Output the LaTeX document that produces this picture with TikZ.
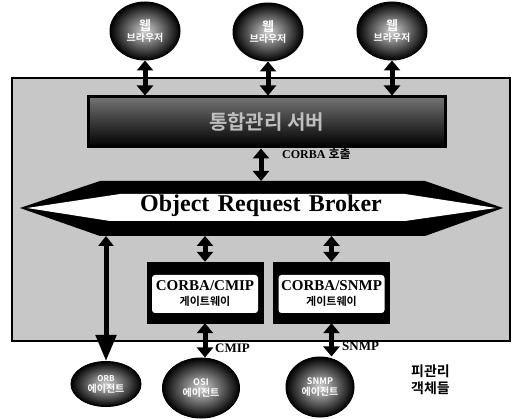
\documentclass[tikz,border=0pt]{standalone}
\usepackage{fontspec}
\setmainfont{Liberation Serif}
\newfontfamily\kr{Noto Sans CJK KR}[BoldFont={Noto Sans CJK KR Bold}]
\usetikzlibrary{shapes.geometric,arrows.meta}
\tikzset{
  x=1pt,y=-1pt,
  bgpanel/.style={draw=black,line width=1.2pt,fill=black!22,minimum width=498pt,minimum height=263pt,inner sep=0pt},
  bubble/.style={ellipse,shading=radial,inner color=black!18,outer color=black,draw=black,line width=1pt,
     text=white,font=\kr\bfseries,align=center,inner sep=0pt},
  server/.style={draw=black,line width=3pt,top color=black!55,bottom color=black,
     minimum width=357pt,minimum height=50pt,inner sep=0pt,text=black!25,font=\kr\bfseries\fontsize{20}{22}\selectfont},
  gwbox/.style={fill=black,draw=black,minimum width=116pt,minimum height=61pt,inner sep=0pt},
  gwtext/.style={fill=white,rounded corners=3pt,minimum width=106pt,minimum height=38pt,inner sep=1pt,align=center,
     font=\bfseries\fontsize{15}{16}\selectfont},
  dbl/.style={line width=5pt,{Triangle[width=16pt,length=10pt]}-{Triangle[width=16pt,length=10pt]}},
  dblbig/.style={line width=5pt,{Triangle[width=15pt,length=10pt]}-{Triangle[width=20pt,length=26pt]}},
  lbl/.style={font=\bfseries\fontsize{13}{14}\selectfont,anchor=west,inner sep=1pt},
}
\begin{document}
\begin{tikzpicture}
\useasboundingbox (0,0) rectangle (522,419);
% background panel
\node[bgpanel] (bg) at (261,209.5) {};
% top web browsers
\node[bubble,minimum width=70pt,minimum height=58pt] (w1) at (145,31) {\fontsize{13}{14}\selectfont 웹\\[-1pt]\fontsize{10}{11}\selectfont 브라우저};
\node[bubble,minimum width=70pt,minimum height=58pt] (w2) at (268,32) {\fontsize{13}{14}\selectfont 웹\\[-1pt]\fontsize{10}{11}\selectfont 브라우저};
\node[bubble,minimum width=70pt,minimum height=58pt] (w3) at (392,31) {\fontsize{13}{14}\selectfont 웹\\[-1pt]\fontsize{10}{11}\selectfont 브라우저};
% server bar
\node[server] (srv) at (266.5,122) {통합관리 서버};
\draw[dbl] (w1.south) -- (w1.south |- srv.north);
\draw[dbl] (w2.south) -- (w2.south |- srv.north);
\draw[dbl] (w3.south) -- (w3.south |- srv.north);
% ORB
\fill[black] (20,208) -- (100,181) -- (425,181) -- (503,208) -- (425,236) -- (100,236) -- cycle;
\fill[white] (27,208) -- (120,194) -- (405,194) -- (496,208) -- (405,221) -- (110,221) -- cycle;
\node[font=\bfseries\fontsize{24}{26}\selectfont,inner sep=0pt] (orb) at (261,206) {Object\hspace{0.35em}Request\hspace{0.35em}Broker};
\coordinate (orbT) at (261,181);
\coordinate (orbB) at (261,236);
\draw[dbl] (srv.south -| orbT) -- (orbT);
\node[lbl,font=\bfseries\fontsize{12}{13}\selectfont] (call) at (281,154) {CORBA {\kr 호출}};
% gateways
\node[gwbox] (g1) at (205,292.5) {};
\node[gwbox] (g2) at (331.5,292.5) {};
\node[gwtext] (g1t) at (205,294) {CORBA/CMIP\\[-1pt]{\kr\fontsize{11}{12}\selectfont 게이트웨이}};
\node[gwtext] (g2t) at (331.5,294) {CORBA/SNMP\\[-1pt]{\kr\fontsize{11}{12}\selectfont 게이트웨이}};
\draw[dbl] (orbB -| g1.north) -- (g1.north);
\draw[dbl] (orbB -| g2.north) -- (g2.north);
% agents
\node[bubble,minimum width=70pt,minimum height=45pt] (a1) at (106,384) {\fontsize{8}{9}\selectfont ORB\\[-1pt]에이전트};
\node[bubble,minimum width=77pt,minimum height=60pt] (a2) at (201,388) {\fontsize{9}{10}\selectfont OSI\\[-1pt]에이전트};
\node[bubble,minimum width=68pt,minimum height=60pt] (a3) at (320,387) {\fontsize{9}{10}\selectfont SNMP\\[-1pt]에이전트};
\draw[dblbig] (orbB -| a1.north) -- (a1.north);
\draw[dbl] (g1.south) -- (g1.south |- a2.north);
\draw[dbl] (g2.south) -- (g2.south |- a3.north);
\node[lbl] (cmip) at (214,348) {CMIP};
\node[lbl] (snmp) at (341,346) {SNMP};
\node[font=\kr\bfseries\fontsize{14}{17}\selectfont,align=left,anchor=west,inner sep=0pt] (mo) at (411,380) {피관리\\객체들};
\end{tikzpicture}
\end{document}
